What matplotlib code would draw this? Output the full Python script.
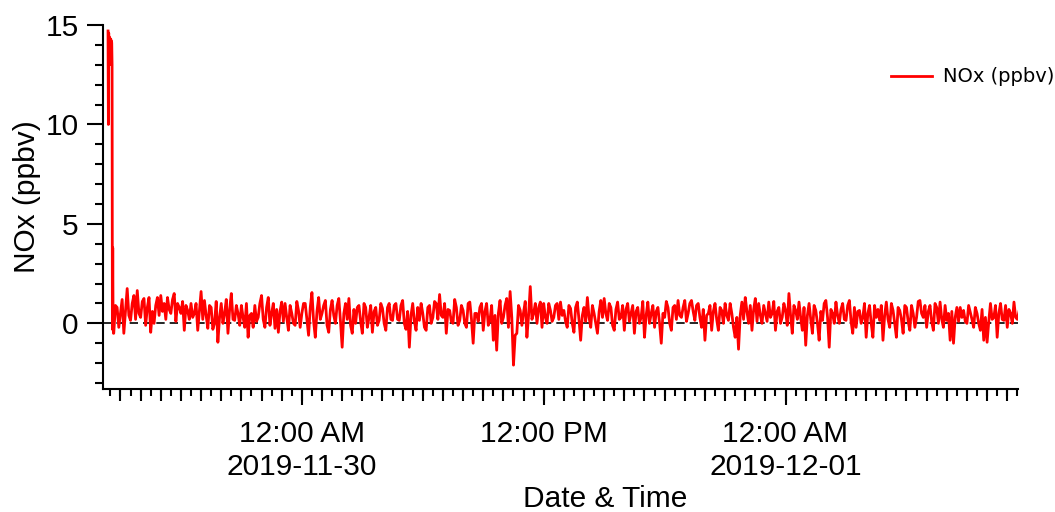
import matplotlib
matplotlib.use("Agg")
import matplotlib.pyplot as plt
import matplotlib.dates as mdates
from matplotlib.ticker import FuncFormatter, MultipleLocator
import numpy as np
import pandas as pd

plt.rcParams['font.family'] = ['Liberation Sans', 'DejaVu Sans']

# --- data ---
spike_start = "2019-11-29 14:23"   # 1-minute values at instrument start-up
spike_vals = [14.7, 10.0, 14.6, 13.2, 14.4, 13.0, 14.3, 13.4, 14.3, 13.1,
              14.2, 14.1, 13.0, -0.3, 3.8, 0.2, -0.5]

noise_start = "2019-11-29 14:40"
# values on the 10-minute marks (:40, :50, ...)
noise_vals = [
    -0.5, 0.8, 0.5, -0.5, 1.75, 0.15, 1.4, 1.65, 0.3, 1.25, 0.8, -0.45,
    0.0, 1.3, 1.4, 1.0, 1.3, 0.5, 1.5, 1.0, 0.5, -0.35, 0.65, 1.0,
    0.5, -0.35, 1.6, 1.15, -0.25, 0.8, 0.0, -0.95, 1.0, 0.5, -0.5, 1.5,
    0.15, 0.5, 0.9, -0.2, -0.7, 0.5, 0.9, 0.3, 1.4, -0.2, 1.3, 0.5,
    -0.25, -0.45, 1.07, 1.0, -0.35, 0.5, -0.1, 0.65, 0.5, 1.0, -0.6, 1.55,
    -0.7, 1.3, 0.5, 1.15, -0.45, 1.15, 0.0, 1.25, -1.2, 1.0, 1.25, -0.5,
    0.0, 0.9, -0.5, 0.8, 0.3, -0.45, 0.8, 0.15, 0.75, -0.35, 1.0, 0.15,
    1.0, 0.15, 1.15, -0.3, -1.2, 1.0, -0.35, 0.15, 0.5, -0.35, 0.9, 0.3,
    1.0, 1.45, 0.3, -0.5, 0.65, 0.0, 0.8, 0.15, 0.65, -0.2, 1.07, -1.0,
    0.5, 0.8, -0.35, 1.0, 0.15, -0.85, -1.35, 1.15, 0.3, 1.25, 1.6, -2.1,
    -0.5, 0.65, 0.55, -0.7, 1.85, 0.5, 0.0, 1.07, 1.0, 0.0, 0.65, 0.3,
    1.0, 1.07, 0.65, -0.2, 0.75, -0.45, 1.07, -0.85, 0.8, 1.3, -0.2, 0.5,
    -0.5, 1.15, 1.25, 0.15, 0.8, -0.35, 1.07, 0.3, -0.35, 1.0, 0.5, -0.5,
    0.8, 0.3, -0.7, 1.07, 0.5, -0.2, 0.8, -1.0, 0.3, 0.8, -0.35, 0.9,
    1.15, 0.3, 1.15, 0.5, 1.15, 0.15, 1.0, -0.2, -0.85, 0.5, -0.35, 1.0,
    -0.35, 0.65, 1.0, 0.15, 0.5, -0.7, -1.3, 1.07, 1.3, 0.0, -0.35, 1.25,
    1.0, 0.0, 0.5, 1.07, 0.5, -0.35, 0.8, 0.3, 0.65, 1.5, -0.5, 0.65,
    1.07, -0.35, -1.1, 1.0, -0.5, 0.65, -0.85, 0.15, 1.15, -1.2, 0.5, 1.07,
    0.0, 1.0, 0.15, 1.15, -0.5, -0.2, 0.65, 0.3, -0.7, 0.9, -0.7, 0.3,
    0.15, -0.85, 1.07, -0.2, 0.65, -0.7, 0.65, -0.5, 0.8, -0.35, 0.5, 0.3,
    1.15, 0.3, -0.2, 0.9, -0.35, 0.8, 1.07, -0.2, 0.15, -0.85, -1.0, 0.8,
    0.8, 0.65, 0.0, 0.55, -0.2, 0.5, -0.35, -0.85, -0.95, 1.0, 0.3, -0.7,
    1.0, 0.15, -0.2, 0.5, 1.07, 0.2,
]
# values 5 minutes after each of the above (:45, :55, ...)
noise_mid = [
    0.9, -0.2, 1.2, 0.6, 0.4, 1.0, 0.2, 0.5, 1.1, -0.1, 1.3, 0.6,
    0.9, 0.4, 0.6, 0.2, 0.7, 1.2, 0.1, 0.8, 1.1, 0.9, 0.2, 0.3,
    1.0, 0.6, 0.2, 0.4, 0.9, -0.3, 1.1, 0.3, 0.0, 1.2, 0.7, 0.2,
    0.9, -0.1, 0.3, 1.0, 0.4, -0.2, 0.1, 1.0, 0.2, 0.8, -0.1, 1.0,
    0.7, 0.6, 0.1, 0.3, 0.9, 0.0, 1.1, -0.2, 1.0, 0.2, 0.8, 0.1,
    0.6, 0.2, 0.9, -0.1, 0.7, 0.4, 0.9, 0.1, 0.5, 0.2, -0.1, 0.7,
    0.8, 0.1, 1.0, -0.2, 0.9, 0.6, -0.1, 1.0, 0.0, 0.8, 0.2, 0.9,
    0.2, 0.9, 0.0, 0.6, 0.4, 0.1, 0.8, 1.0, -0.2, 0.8, 0.0, 1.1,
    0.2, 0.4, 1.0, 0.7, 0.1, 1.2, -0.1, 0.9, 0.0, 1.0, 0.2, 0.5,
    0.1, 1.0, 0.6, -0.1, 0.9, 0.4, 0.5, 0.0, 0.9, -0.2, 0.3, -0.6,
    0.9, -0.1, 1.1, 0.4, 0.2, 1.0, 0.8, -0.2, 0.3, 1.0, 0.1, 0.9,
    0.2, 0.4, 0.1, 0.9, 0.0, 0.8, 0.2, 0.4, 0.1, 0.3, 0.9, 0.0,
    0.6, 0.3, 0.5, 1.0, -0.1, 0.7, 0.2, 0.9, 0.7, 0.1, 0.9, 0.6,
    0.0, 1.1, 0.4, 0.0, 0.9, 0.6, 0.0, 0.5, 1.1, 0.0, 0.8, 0.2,
    0.4, 0.8, 0.1, 1.0, 0.6, 0.9, 0.3, 0.7, 0.4, 0.9, 0.6, 0.2,
    0.8, 0.0, 0.4, 1.0, -0.2, 0.3, 0.4, 0.2, 0.6, 0.9, 0.7, 0.1,
    0.4, 0.9, 0.1, 0.3, 1.1, 0.6, 0.0, 1.0, -0.1, 0.4, 0.9, 0.2,
    0.3, 0.8, 0.4, 0.2, 0.9, 0.0, 0.6, 1.0, 0.3, 0.7, 0.0, 0.4,
    0.7, 0.2, 0.9, 0.1, 0.8, 0.6, 0.0, 1.0, 0.5, 0.0, 0.9, 0.7,
    0.9, 0.4, 0.2, 1.0, 0.0, 0.8, 0.2, 0.9, 0.1, 0.9, -0.2, 1.1,
    0.5, 0.9, 0.6, 0.1, 1.0, 0.0, 0.2, 0.9, 0.5, 0.6, 0.3, 0.1,
    0.3, 0.1, 0.9, 0.2, 0.8, 0.0, 0.7, 0.3, 0.1, 0.2, 0.9, 0.5,
    0.2, 0.9, 0.7, 0.0, 0.3, 0.6,
]

x_range = ("2019-11-29 14:08", "2019-12-01 11:32")
y_range = (-3.3, 15)

# --- build time axis ---
noise_all = np.column_stack([noise_vals, noise_mid]).ravel()
t_spike = pd.date_range(spike_start, periods=len(spike_vals), freq="1min")
t_noise = pd.date_range(noise_start, periods=len(noise_all), freq="5min")
t = mdates.date2num(np.concatenate([t_spike.values, t_noise.values]))
nox = np.concatenate([spike_vals, noise_all])

fig = plt.figure(figsize=(10.55, 5.12), dpi=100)
ax = fig.add_axes([103 / 1055, 1 - 389 / 512, 915 / 1055, 364 / 512])

ax.axhline(0, color="black", lw=1.2, ls=(0, (5, 3)), zorder=1)
ax.plot(t, nox, color="#ff0000", lw=2.0, zorder=2, label="NOx (ppbv)")

ax.set_xlim(mdates.date2num(pd.Timestamp(x_range[0])), mdates.date2num(pd.Timestamp(x_range[1])))
ax.set_ylim(*y_range)

for s in ["top", "right"]:
    ax.spines[s].set_visible(False)
for s in ["left", "bottom"]:
    ax.spines[s].set_linewidth(1.5)

# y ticks
ax.yaxis.set_major_locator(MultipleLocator(5))
ax.yaxis.set_minor_locator(MultipleLocator(1))
ax.tick_params(axis="y", which="major", direction="out", length=11.5, width=1.5, labelsize=21.5, pad=6)
ax.tick_params(axis="y", which="minor", direction="out", length=5.8, width=1.5)


# x ticks: labels every 12 h, hour ticks, half-hour ticks
def fmt_date(x, pos):
    d = mdates.num2date(x)
    if d.hour == 0:
        return "12:00 AM\n" + d.strftime("%Y-%m-%d")
    return "12:00 PM"


ax.xaxis.set_major_locator(mdates.HourLocator(byhour=[0, 12]))
ax.xaxis.set_major_formatter(FuncFormatter(fmt_date))
ax.xaxis.set_minor_locator(mdates.MinuteLocator(byminute=[0, 30]))
ax.tick_params(axis="x", which="major", direction="out", length=11.5, width=1.5, labelsize=21.5, pad=11)
ax.tick_params(axis="x", which="minor", direction="out", length=5.0, width=1.5)

sec = ax.secondary_xaxis("bottom")
sec.xaxis.set_major_locator(mdates.HourLocator())
sec.tick_params(axis="x", which="major", direction="out", length=8.8, width=1.5, labelbottom=False)
sec.tick_params(axis="x", which="minor", length=0)
sec.spines["bottom"].set_visible(False)

ax.set_xlabel("Date & Time", fontsize=21.5)
ax.xaxis.set_label_coords((605 - 103) / 915, -0.265)
ax.set_ylabel("NOx (ppbv)", fontsize=21.5)
ax.yaxis.set_label_coords((41 - 103) / 915, (389 - 197) / 364)

fig.legend(loc="center left", bbox_to_anchor=(891 / 1055, 1 - 77 / 512), frameon=False,
           borderpad=0, borderaxespad=0, handlelength=2.1, handletextpad=0.55,
           prop={"family": "DejaVu Sans", "size": 14})

fig.savefig("out.png", dpi=100)
